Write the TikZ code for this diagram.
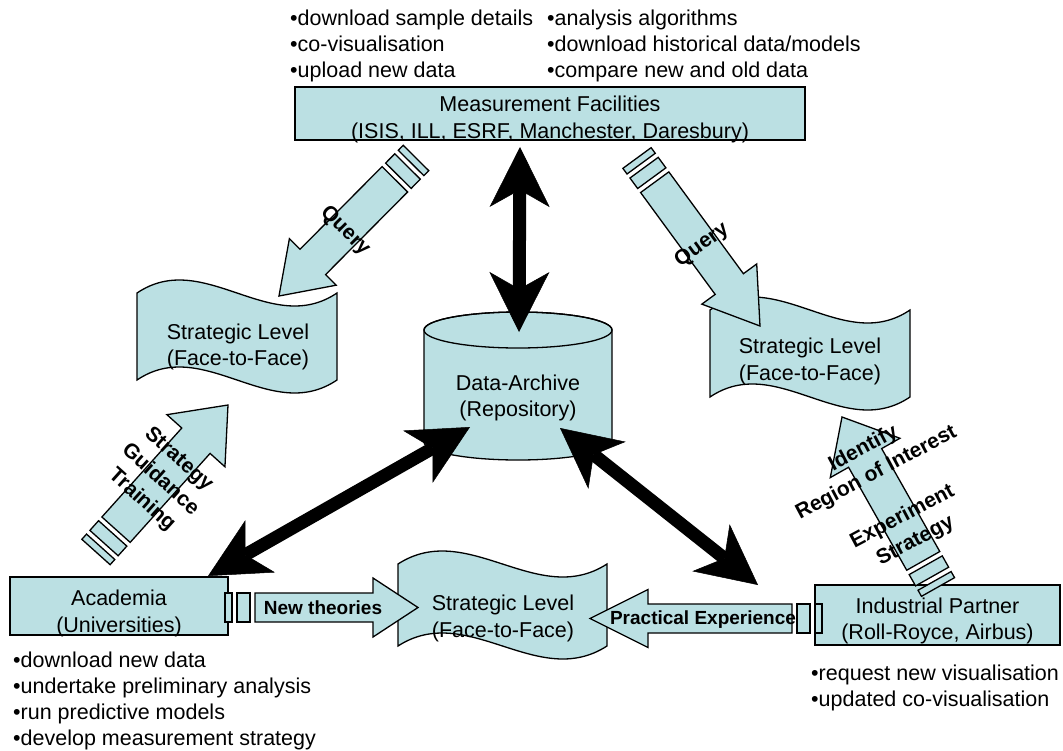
\documentclass[tikz,border=0pt]{standalone}
\usepackage{fontspec}
\setmainfont{Liberation Sans}
\usetikzlibrary{arrows.meta}
\definecolor{paleblue}{RGB}{187,224,227}
\newcommand{\fsbody}{\fontsize{21.5}{26}\selectfont}
\newcommand{\fsboxed}{\fontsize{21.5}{26.5}\selectfont}
\newcommand{\fslbl}{\fontsize{21}{27.5}\selectfont\bfseries}
\newcommand{\fssmall}{\fontsize{19}{23}\selectfont\bfseries}
\tikzset{
 shapeline/.style={draw=black, fill=paleblue, line width=1.3pt, line join=miter},
 box/.style={shapeline, inner sep=0pt},
 txt/.style={align=center, font=\fsboxed, inner sep=0pt},
 bul/.style={anchor=west, align=left, font=\fsbody, inner sep=0pt},
 lbl/.style={align=center, font=\fslbl, inner sep=0pt},
 slbl/.style={align=center, font=\fssmall, inner sep=0pt},
 bigarrow/.style={line width=13pt, {Stealth[length=60pt,width=60pt,inset=17pt,line width=0.5pt]}-{Stealth[length=60pt,width=60pt,inset=17pt,line width=0.5pt]}},
}
% wave banner: x0, top y, width, height, control offset
\newcommand{\wave}[5]{%
 \filldraw[shapeline] (#1,#2) .. controls ({#1+#3/3},{#2-#5}) and ({#1+2*#3/3},{#2+#5}) .. ({#1+#3},#2)
   -- ({#1+#3},{#2+#4}) .. controls ({#1+2*#3/3},{#2+#4+#5}) and ({#1+#3/3},{#2+#4-#5}) .. (#1,{#2+#4}) -- cycle;}
% striped block arrow: tail, tip, body width, head width, head length
\newcommand{\stripearrow}[5]{%
 \pgfpointanchor{#1}{center}\pgfgetlastxy{\ax}{\ay}
 \pgfpointanchor{#2}{center}\pgfgetlastxy{\bx}{\by}
 \pgfmathsetmacro{\aang}{atan2((\by)-(\ay),(\bx)-(\ax))}
 \pgfmathsetmacro{\alen}{veclen((\bx)-(\ax),(\by)-(\ay))}
 \begin{scope}[shift={(#1)},rotate=\aang]
  \filldraw[shapeline] (0,-#3/2) rectangle (7,#3/2);
  \filldraw[shapeline] (12,-#3/2) rectangle (25,#3/2);
  \filldraw[shapeline] (30,-#3/2) -- ({\alen-#5},-#3/2) -- ({\alen-#5},-#4/2) -- (\alen,0)
    -- ({\alen-#5},#4/2) -- ({\alen-#5},#3/2) -- (30,#3/2) -- cycle;
 \end{scope}}
\begin{document}
\begin{tikzpicture}[x=1pt,y=-1pt]
\useasboundingbox (0,0) rectangle (1063,750);
% notes
\node[bul] (noteML) at (290,45.5) {•download sample details\\•co-visualisation\\•upload new data};
\node[bul] (noteMR) at (547,45.5) {•analysis algorithms\\•download historical data/models\\•compare new and old data};
\node[bul] (noteA) at (13,701) {•download new data\\•undertake preliminary analysis\\•run predictive models\\•develop measurement strategy};
\node[bul] (noteI) at (811,688) {•request new visualisation\\•updated co-visualisation};
% boxes
\node[box, minimum width=510, minimum height=53] (meas) at (550,113.5) {};
\node[txt] (measT) at (550,119.5) {Measurement Facilities\\(ISIS, ILL, ESRF, Manchester, Daresbury)};
\node[box, minimum width=218, minimum height=58] (acad) at (119,606) {};
\node[txt] (acadT) at (119,613.5) {Academia\\(Universities)};
\node[box, minimum width=245, minimum height=60] (ind) at (937.5,615) {};
\node[txt] (indT) at (937.5,621) {Industrial Partner\\(Roll-Royce, Airbus)};
% banners
\wave{137}{293}{200}{87}{45}
\node[txt] (stratL) at (238,347) {Strategic Level\\(Face-to-Face)};
\wave{710}{310}{200}{87}{45}
\node[txt] (stratR) at (810,361.5) {Strategic Level\\(Face-to-Face)};
\wave{398}{564}{209}{82}{45}
\node[txt] (stratC) at (503,618.5) {Strategic Level\\(Face-to-Face)};
% archive
\filldraw[shapeline] (424,330) -- (424,442) arc[start angle=180,end angle=0,x radius=94,y radius=18]
  -- (612,330) arc[start angle=0,end angle=-180,x radius=94,y radius=18] -- cycle;
\draw[line width=1.3pt] (518,330) ellipse[x radius=94,y radius=18];
\node[txt] (archive) at (518,398) {Data-Archive\\(Repository)};
% striped arrows
\coordinate (qLt) at (416,158); \coordinate (qLh) at (279,296);
\stripearrow{qLt}{qLh}{36}{66}{48}
\coordinate (qRt) at (637,158); \coordinate (qRh) at (760,326);
\stripearrow{qRt}{qRh}{35}{68}{52}
\coordinate (sgt) at (96,552); \coordinate (sgh) at (228,405);
\stripearrow{sgt}{sgh}{38}{78}{48}
\coordinate (irt) at (938,587); \coordinate (irh) at (842,417);
\stripearrow{irt}{irh}{38}{80}{47}
\coordinate (ntt) at (225,607.5); \coordinate (nth) at (418,607.5);
\stripearrow{ntt}{nth}{29}{59}{45}
\coordinate (pet) at (822,618.5); \coordinate (peh) at (590,618.5);
\stripearrow{pet}{peh}{29}{58}{58}
% arrow labels
\node[lbl, rotate=-45] (qL) at (345,231) {Query};
\node[lbl, rotate=36] (qR) at (702,245) {Query};
\node[lbl, rotate=-42] (sg) at (160,480) {Strategy\\Guidance\\Training};
\node[lbl, rotate=28] (ir) at (870,461) {Identify\\Region of Interest};
\node[lbl, rotate=28] (es) at (909,529) {Experiment\\Strategy};
\node[slbl] (nt) at (323,608) {New theories};
\node[slbl] (pe) at (703,620) {Practical Experience};
% links to the archive
\coordinate (measBot) at (520,147); \coordinate (archTop) at (519,332);
\draw[bigarrow] (measBot) -- (archTop);
\coordinate (archLeft) at (470,427); \coordinate (acadTop) at (208,576);
\draw[bigarrow] (archLeft) -- (acadTop);
\coordinate (archRight) at (560,428); \coordinate (indTop) at (758,585);
\draw[bigarrow] (archRight) -- (indTop);
\end{tikzpicture}
\end{document}
